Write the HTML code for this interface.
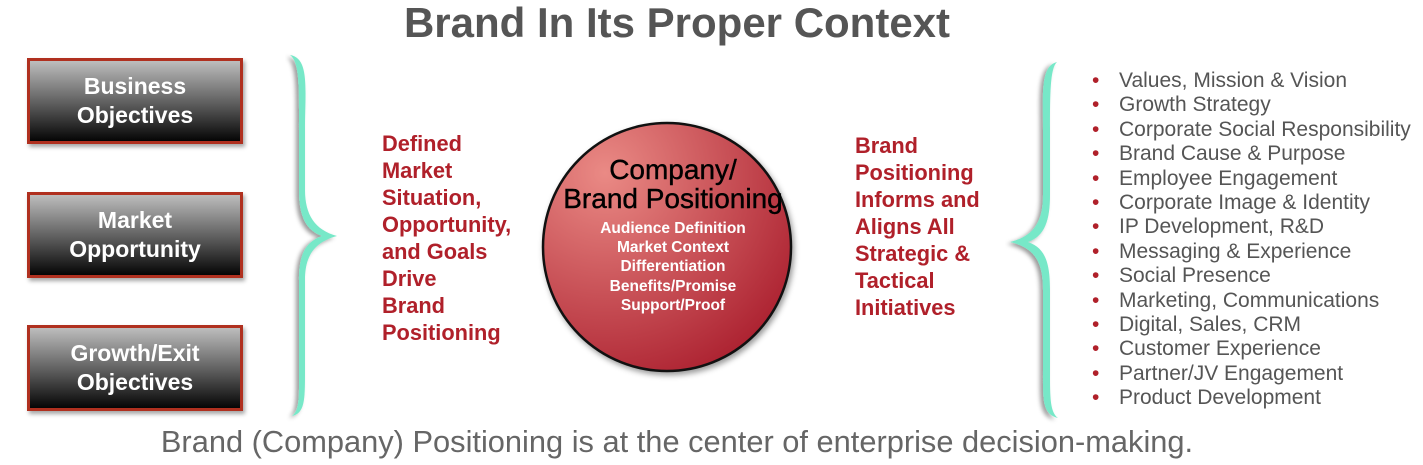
<!DOCTYPE html>
<html><head><style>
body{margin:0;width:1423px;height:465px;background:#fff;position:relative;overflow:hidden;font-family:"Liberation Sans",Arial,sans-serif}
.t{position:absolute;white-space:nowrap}
.box{position:absolute;left:27px;width:210px;height:80px;border:3px solid #b0301f;background:linear-gradient(#bdbdbd,#5a5a5a 55%,#050505);box-shadow:2px 3px 4px rgba(0,0,0,.35);color:#fff;font-weight:bold;font-size:23px;text-align:center;line-height:29px;display:flex;align-items:center;justify-content:center}
.red{position:absolute;color:#b0202a;font-weight:bold;font-size:21.8px;line-height:27px}
ul{position:absolute;left:1092px;top:69px;margin:0;padding:0;list-style:none;color:#555;font-size:21px;line-height:24.4px}
ul li:before{content:"•";color:#b0202a;position:absolute;left:0}
ul li{padding-left:27px}
</style></head><body>
<div class="t" style="left:0;width:1354px;text-align:center;top:-1px;font-size:42px;font-weight:bold;color:#555">Brand In Its Proper Context</div>
<div class="box" style="top:58px">Business<br>Objectives</div>
<div class="box" style="top:192px">Market<br>Opportunity</div>
<div class="box" style="top:325px">Growth/Exit<br>Objectives</div>
<svg width="1423" height="465" style="position:absolute;left:0;top:0">
<defs><filter id="s"><feDropShadow dx="-3" dy="2" stdDeviation="2" flood-color="#000" flood-opacity=".4"/></filter>
<radialGradient id="g" cx="25%" cy="20%" r="95%"><stop offset="0" stop-color="#ea8a85"/><stop offset="1" stop-color="#a91c2c"/></radialGradient></defs>
<path filter="url(#s)" fill="#77e8c8" d="M290,55 C310,58 305,90 305,130 L305,190 C305,215 315,230 337,236 C315,242 305,255 305,280 L305,370 C305,400 305,413 292,416 C300,410 299,395 299,370 L299,280 C299,255 305,242 322,236 C305,230 299,215 299,190 L299,130 C299,90 300,62 290,55Z"/>
<path filter="url(#s)" fill="#77e8c8" d="M1057,62 C1040,66 1043,95 1043,130 L1043,195 C1043,220 1035,236 1010,242 C1035,248 1043,262 1043,290 L1043,370 C1043,400 1042,414 1058,418 C1050,412 1050,398 1050,370 L1050,290 C1050,262 1045,248 1028,242 C1045,236 1050,220 1050,195 L1050,130 C1050,95 1050,68 1057,62Z"/>
<circle cx="667" cy="247" r="124" fill="url(#g)" stroke="#111" stroke-width="2.5" style="filter:drop-shadow(2px 3px 3px rgba(0,0,0,.4))"/>
</svg>
<div class="t" style="left:551px;width:244px;text-align:center;top:155px;font-size:28px;line-height:29px;color:#000;-webkit-text-stroke:0.4px #000">Company/<br>Brand Positioning</div>
<div class="t" style="left:551px;width:244px;text-align:center;top:219px;font-size:15.5px;line-height:19.2px;font-weight:bold;color:#fff">Audience Definition<br>Market Context<br>Differentiation<br>Benefits/Promise<br>Support/Proof</div>
<div class="red" style="left:382px;top:130px">Defined<br>Market<br>Situation,<br>Opportunity,<br>and Goals<br>Drive<br>Brand<br>Positioning</div>
<div class="red" style="left:855px;top:132px">Brand<br>Positioning<br>Informs and<br>Aligns All<br>Strategic &amp;<br>Tactical<br>Initiatives</div>
<ul><li>Values, Mission &amp; Vision</li><li>Growth Strategy</li><li>Corporate Social Responsibility</li><li>Brand Cause &amp; Purpose</li><li>Employee Engagement</li><li>Corporate Image &amp; Identity</li><li>IP Development, R&amp;D</li><li>Messaging &amp; Experience</li><li>Social Presence</li><li>Marketing, Communications</li><li>Digital, Sales, CRM</li><li>Customer Experience</li><li>Partner/JV Engagement</li><li>Product Development</li></ul>
<div class="t" style="left:0;width:1354px;text-align:center;top:424px;font-size:30.8px;color:#666">Brand (Company) Positioning is at the center of enterprise decision-making.</div>
</body></html>
